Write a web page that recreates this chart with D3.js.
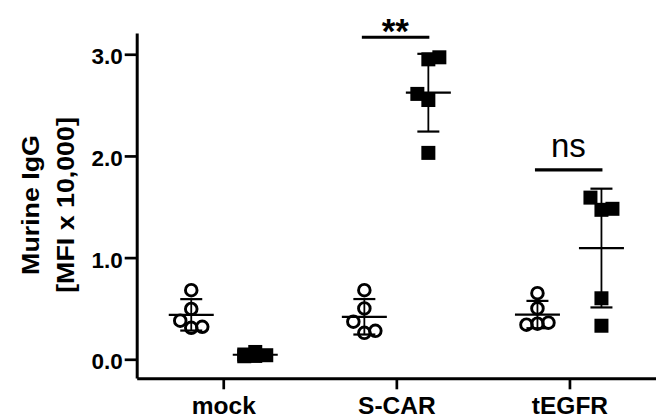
<!DOCTYPE html>
<html>
<head>
<meta charset="utf-8">
<script src="https://cdn.jsdelivr.net/npm/d3@7"></script>
<style>
  html, body { margin: 0; padding: 0; background: #fff; }
  svg { display: block; font-family: "Liberation Sans", Arial, Helvetica, sans-serif; }
</style>
</head>
<body>
<svg id="chart" width="656" height="419"></svg>
<script>
// Groups on the x axis
const categories = ["mock", "S-CAR", "tEGFR"];

// Open circles (left column of each group), MFI x 10,000
const openValues = [
  [0.31, 0.38, 0.32, 0.495, 0.68],
  [0.26, 0.37, 0.28, 0.50, 0.68],
  [0.35, 0.34, 0.36, 0.50, 0.65]
];

// Filled squares (right column of each group), MFI x 10,000
const filledValues = [
  [0.033, 0.047, 0.040, 0.072, 0.030],
  [2.03, 2.55, 2.61, 2.95, 2.97],
  [0.33, 0.60, 1.47, 1.59, 1.48]
];

const yTicks = [0, 1, 2, 3];

// Significance brackets: group, label, bracket level (data units)
const comparisons = [
  { category: "S-CAR", label: "**", level: 3.167, bold: true },
  { category: "tEGFR", label: "ns", level: 1.862, bold: false }
];

const svg = d3.select("#chart");

const y = d3.scaleLinear().domain([-0.185, 3.21]).range([378.1, 32.9]);
const x = d3.scalePoint().domain(categories).range([136.7, 656]).padding(0.5);
const sub = d3.scalePoint().domain(["open", "filled"]).range([-32, 32]);

// Spread points that would overlap horizontally, alternating sides
function swarm(values, step, sx, sy) {
  const placed = [];
  let shifts = 0;
  values.forEach(v => {
    const py = y(v);
    const collides = dx => placed.some(p => Math.abs(p.dx - dx) < sx && Math.abs(p.py - py) < sy);
    let dx;
    if (!collides(0)) {
      dx = 0;
    } else {
      const order = shifts % 2 === 0 ? [-step, step] : [step, -step];
      dx = order.find(c => !collides(c));
      if (dx === undefined) {
        let best = -1;
        [0, -step, step].forEach(c => {
          const m = d3.min(placed, p => Math.hypot(p.dx - c, p.py - py));
          if (m > best) { best = m; dx = c; }
        });
      } else {
        shifts++;
      }
    }
    placed.push({ v, py, dx });
  });
  return placed;
}

function stats(values) {
  return { mean: d3.mean(values), sd: d3.deviation(values) };
}

// Axes
const yAxis = d3.axisLeft(y).tickValues(yTicks).tickFormat(d3.format(".1f"))
  .tickSize(12).tickSizeOuter(0).tickPadding(2);
const gy = svg.append("g").attr("transform", "translate(136.7,0)").call(yAxis);
gy.select(".domain").attr("stroke", "#000").attr("stroke-width", 3);
gy.selectAll(".tick line").attr("stroke", "#000").attr("stroke-width", 2.7);
gy.selectAll(".tick text").attr("fill", "#000").attr("font-size", 22.5).attr("font-weight", "bold")
  .attr("dy", "0.42em");

const xAxis = d3.axisBottom(x).tickSize(11).tickSizeOuter(0).tickPadding(7);
const gx = svg.append("g").attr("transform", "translate(0,378.3)").call(xAxis);
gx.select(".domain").attr("stroke", "#000").attr("stroke-width", 3);
gx.selectAll(".tick line").attr("stroke", "#000").attr("stroke-width", 2.7);
gx.selectAll(".tick text").attr("fill", "#000").attr("font-size", 24.5).attr("font-weight", "bold");

// Y axis title (two lines)
const titleLines = ["Murine IgG", "[MFI x 10,000]"];
svg.selectAll("text.ytitle").data(titleLines).enter().append("text")
  .attr("class", "ytitle")
  .attr("transform", (d, i) => `translate(${38.5 + i * 35},205) rotate(-90) scale(1.14,1)`)
  .attr("text-anchor", "middle")
  .attr("font-size", 23.5).attr("font-weight", "bold").attr("fill", "#000")
  .text(d => d);

// Data points and mean ± SD for every group
const plot = svg.append("g");
categories.forEach((cat, gi) => {
  const series = [
    { key: "open", values: openValues[gi], sy: 11.5 },
    { key: "filled", values: filledValues[gi], sy: 13 }
  ];
  series.forEach(s => {
    const cx = x(cat) + sub(s.key);
    const pts = swarm(s.values, 11, 10, s.sy);
    const g = plot.append("g");
    if (s.key === "open") {
      g.selectAll("circle").data(pts).enter().append("circle")
        .attr("cx", d => cx + d.dx).attr("cy", d => d.py).attr("r", 5.8)
        .attr("fill", "none").attr("stroke", "#000").attr("stroke-width", 2.9);
    } else {
      g.selectAll("rect").data(pts).enter().append("rect")
        .attr("x", d => cx + d.dx - 7).attr("y", d => d.py - 7)
        .attr("width", 14).attr("height", 14).attr("fill", "#000");
    }
    const st = stats(s.values);
    const eg = plot.append("g").attr("stroke", "#000");
    eg.append("line").attr("x1", cx).attr("x2", cx)
      .attr("y1", y(st.mean + st.sd)).attr("y2", y(st.mean - st.sd)).attr("stroke-width", 1.8);
    [st.mean + st.sd, st.mean - st.sd].forEach(v => {
      eg.append("line").attr("x1", cx - 11).attr("x2", cx + 11)
        .attr("y1", y(v)).attr("y2", y(v)).attr("stroke-width", 2.2);
    });
    eg.append("line").attr("x1", cx - 22.5).attr("x2", cx + 22.5)
      .attr("y1", y(st.mean)).attr("y2", y(st.mean)).attr("stroke-width", 2.2);
  });
});

// Significance brackets
comparisons.forEach(c => {
  const cx = x(c.category);
  const yy = y(c.level);
  svg.append("line").attr("x1", cx - 34.5).attr("x2", cx + 33)
    .attr("y1", yy).attr("y2", yy).attr("stroke", "#000").attr("stroke-width", 3.2);
  svg.append("text").attr("x", cx - 1).attr("y", c.bold ? yy + 6 : yy - 13)
    .attr("text-anchor", "middle")
    .attr("font-size", c.bold ? 35 : 33).attr("font-weight", c.bold ? "bold" : "normal")
    .attr("fill", "#000").text(c.label);
});
</script>
</body>
</html>
